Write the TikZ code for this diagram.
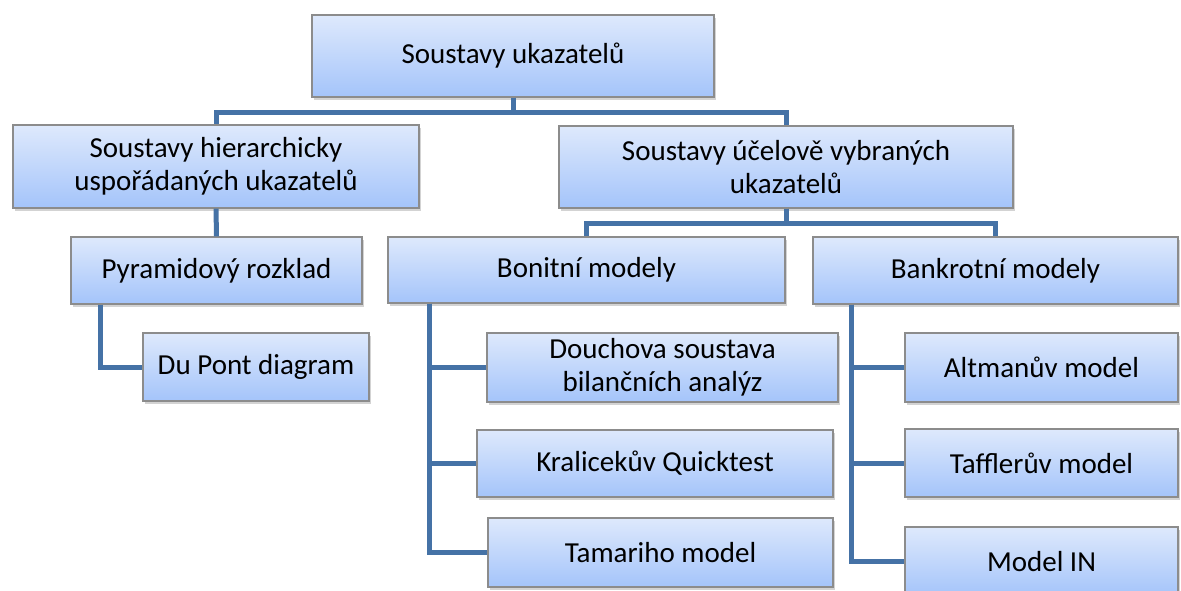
\documentclass[tikz,border=0pt]{standalone}
\usepackage{fontspec}
\setmainfont{Carlito}
\usetikzlibrary{shadows}
\definecolor{linkblue}{RGB}{69,114,166}
\definecolor{boxtop}{RGB}{222,233,252}
\definecolor{boxbot}{RGB}{164,196,250}
\definecolor{boxedge}{RGB}{140,140,140}
\tikzset{
  box/.style={draw=boxedge,line width=1.2pt,top color=boxtop,bottom color=boxbot,
    drop shadow={shadow xshift=1.5pt,shadow yshift=-3pt,opacity=0.35},
    font=\fontsize{29}{33}\selectfont,align=center,inner sep=0pt},
  link/.style={draw=linkblue,line width=5pt}
}
\begin{document}
\begin{tikzpicture}[x=1pt,y=-1pt]
  \useasboundingbox (0,0) rectangle (1181,590);
  \node[box,minimum width=402pt,minimum height=82pt] (root) at (513,56) {Soustavy ukazatelů};
  \node[box,minimum width=406pt,minimum height=83pt] (hier) at (216,166.5) {Soustavy hierarchicky\\uspořádaných ukazatelů};
  \node[box,minimum width=454pt,minimum height=82pt] (ucel) at (786,167) {Soustavy účelově vybraných\\ukazatelů};
  \node[box,minimum width=291pt,minimum height=67pt] (pyr) at (216.5,270.5) {Pyramidový rozklad};
  \node[box,minimum width=226pt,minimum height=68pt] (dupont) at (256,367) {Du Pont diagram};
  \node[box,minimum width=397pt,minimum height=66pt] (bonit) at (586.5,270) {Bonitní modely};
  \node[box,minimum width=365pt,minimum height=67pt] (bankr) at (995.5,270.5) {Bankrotní modely};
  \node[box,minimum width=351pt,minimum height=69pt] (douch) at (662.5,367.5) {Douchova soustava\\bilančních analýz};
  \node[box,minimum width=356pt,minimum height=67pt] (kral) at (655,463.5) {Kralicekův Quicktest};
  \node[box,minimum width=345pt,minimum height=69pt] (tam) at (660.5,552.5) {Tamariho model};
  \node[box,minimum width=273pt,minimum height=69pt] (altm) at (1041.5,367.5) {Altmanův model};
  \node[box,minimum width=273pt,minimum height=68pt] (taff) at (1041.5,463) {Tafflerův model};
  \node[box,minimum width=273pt,minimum height=69pt] (modin) at (1041.5,561.5) {Model IN};
  \draw[link] (root.south) -- ++(0,15) -| (hier.north);
  \draw[link] (root.south) -- ++(0,15) -| (ucel.north);
  \draw[link] (hier.south) -- (pyr.north);
  \draw[link] (ucel.south) -- ++(0,15) -| (bonit.north);
  \draw[link] (ucel.south) -- ++(0,15) -| (bankr.north);
  \draw[link] ([xshift=30pt]pyr.south west) |- (dupont.west);
  \draw[link] ([xshift=42pt]bonit.south west) |- (douch.west);
  \draw[link] ([xshift=42pt]bonit.south west) |- (kral.west);
  \draw[link] ([xshift=42pt]bonit.south west) |- (tam.west);
  \draw[link] ([xshift=39pt]bankr.south west) |- (altm.west);
  \draw[link] ([xshift=39pt]bankr.south west) |- (taff.west);
  \draw[link] ([xshift=39pt]bankr.south west) |- (modin.west);
\end{tikzpicture}
\end{document}
